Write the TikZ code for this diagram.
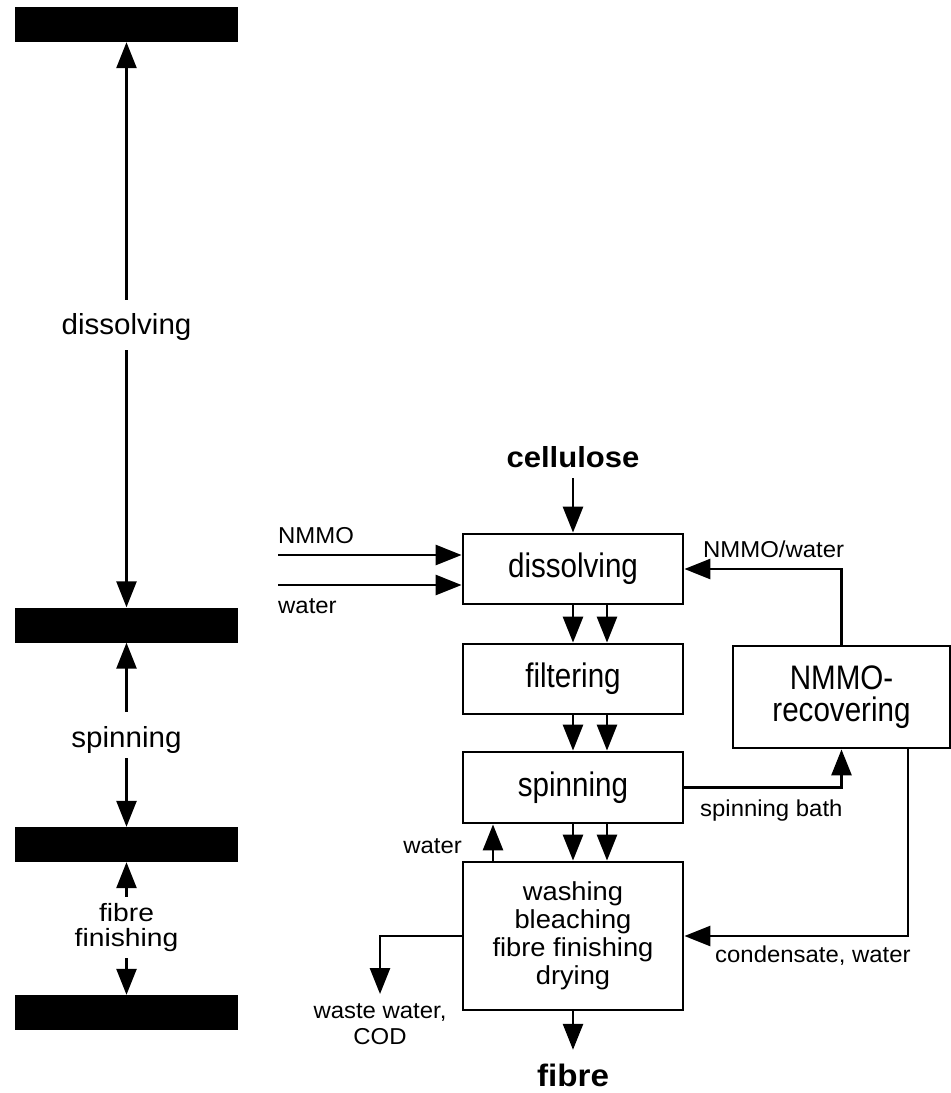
\documentclass[tikz,border=0pt]{standalone}
\usepackage{fontspec}
\setmainfont{Liberation Sans}
\newfontfamily\boxfont{Liberation Sans}[FakeStretch=0.87]
\newfontfamily\washfont{Liberation Sans}[FakeStretch=1.05]
\newfontfamily\labelfont{Liberation Sans}[FakeStretch=1.04]
\newfontfamily\leftfont{Liberation Sans}[FakeStretch=1.02]
\newfontfamily\leftsmallfont{Liberation Sans}[FakeStretch=1.13]
\newfontfamily\headfont{Liberation Sans}[FakeStretch=1.07]
\usetikzlibrary{arrows.meta}
\tikzset{
  arr/.style={line width=2.7pt, -{Triangle[length=26pt,width=20pt]}},
  procbox/.style={draw, line width=2.8pt, inner sep=0pt, minimum width=220pt,
    font=\boxfont\fontsize{34}{32}\selectfont, align=center},
  blackbar/.style={fill=black, draw=none, inner sep=0pt, minimum width=223pt, minimum height=35pt},
  lab/.style={inner sep=0pt, font=\labelfont\fontsize{23}{26}\selectfont},
  leftlab/.style={inner sep=0pt, font=\leftfont\fontsize{29}{30}\selectfont},
  head/.style={inner xsep=0pt, text depth=0pt, font=\headfont\bfseries\fontsize{29}{30}\selectfont},
}
\begin{document}
\begin{tikzpicture}[x=1pt,y=-1pt]
\fill[white] (0,0) rectangle (951,1093);
\useasboundingbox (0,0) rectangle (951,1093);

% left column
\node[blackbar] (b1) at (126.5,24.5) {};
\node[blackbar] (b2) at (126.5,625) {};
\node[blackbar] (b3) at (126.5,844.5) {};
\node[blackbar] (b4) at (126.5,1012.5) {};
\node[leftlab, anchor=base, text height=34pt, text depth=16pt] (ldis) at (126.5,334) {dissolving};
\node[leftlab, anchor=base, text height=35pt, text depth=11pt] (lspin) at (126.5,747) {spinning};
\node[inner sep=0pt, minimum height=61pt, align=center,
  font=\leftsmallfont\fontsize{25}{25}\selectfont] (lfib) at (126.5,927.5) {fibre\\finishing};
\draw[arr] (ldis.north) -- (b1.south);
\draw[arr] (ldis.south) -- (b2.north);
\draw[arr] (lspin.north) -- (b2.south);
\draw[arr] (lspin.south) -- (b3.north);
\draw[arr] (lfib.north) -- (b3.south);
\draw[arr] (lfib.south) -- (b4.north);

% right flow
\node[procbox, minimum height=70pt] (dis) at (573,569) {dissolving};
\node[procbox, minimum height=70pt] (fil) at (573,679) {filtering};
\node[procbox, minimum height=71pt] (spi) at (573,787.5) {spinning};
\node[procbox, minimum height=148pt, font=\washfont\fontsize{26}{28}\selectfont] (wash) at (573,936)
  {washing\\bleaching\\fibre finishing\\drying};
\node[procbox, minimum width=217pt, minimum height=102pt] (rec) at (841.5,697) {NMMO-\\recovering};

\node[head, anchor=base, text height=22pt, text depth=11pt, inner ysep=0pt] (cel) at (573,467) {cellulose};
\node[head, anchor=base, inner ysep=0pt, text height=36pt, font=\headfont\bfseries\fontsize{31}{32}\selectfont] (fib) at (573,1086) {fibre};

\draw[arr] (cel.south) -- (dis.north);
\draw[arr] (dis.south) -- (fil.north);
\draw[arr] ([xshift=34pt]dis.south) -- ([xshift=34pt]fil.north);
\draw[arr] (fil.south) -- (spi.north);
\draw[arr] ([xshift=34pt]fil.south) -- ([xshift=34pt]spi.north);
\draw[arr] (spi.south) -- (wash.north);
\draw[arr] ([xshift=34pt]spi.south) -- ([xshift=34pt]wash.north);
\draw[arr] (wash.south) -- (fib.north);

% inputs
\coordinate (nmmoS) at (278,555);
\coordinate (watS) at (278,585);
\node[lab, anchor=base west] (lnmmo) at (278,543) {NMMO};
\node[lab, anchor=base west] (lwat) at (278,613) {water};
\draw[arr] (nmmoS) -- (nmmoS -| dis.west);
\draw[arr] (watS) -- (watS -| dis.west);

% water return
\draw[arr] ([xshift=-80pt]wash.north) -- ([xshift=-80pt]spi.south);
\node[lab, anchor=base east] (lwat2) at (462,853) {water};

% recovery loop
\draw[arr] (rec.north) |- (dis.east);
\node[lab, anchor=base west] (lnw) at (703,557) {NMMO/water};
\draw[arr] (spi.east) -| (rec.south);
\node[lab, anchor=base west] (lsb) at (700,816) {spinning bath};
\draw[arr] ([xshift=66.5pt]rec.south) |- (wash.east);
\node[lab, anchor=base west] (lcw) at (715,962) {condensate, water};

% waste water
\coordinate (wtip) at (380,994);
\draw[arr] (wash.west) -| (wtip);
\node[lab, anchor=north, align=center] (lww) at (380,1003) {waste water,\\COD};
\end{tikzpicture}
\end{document}
